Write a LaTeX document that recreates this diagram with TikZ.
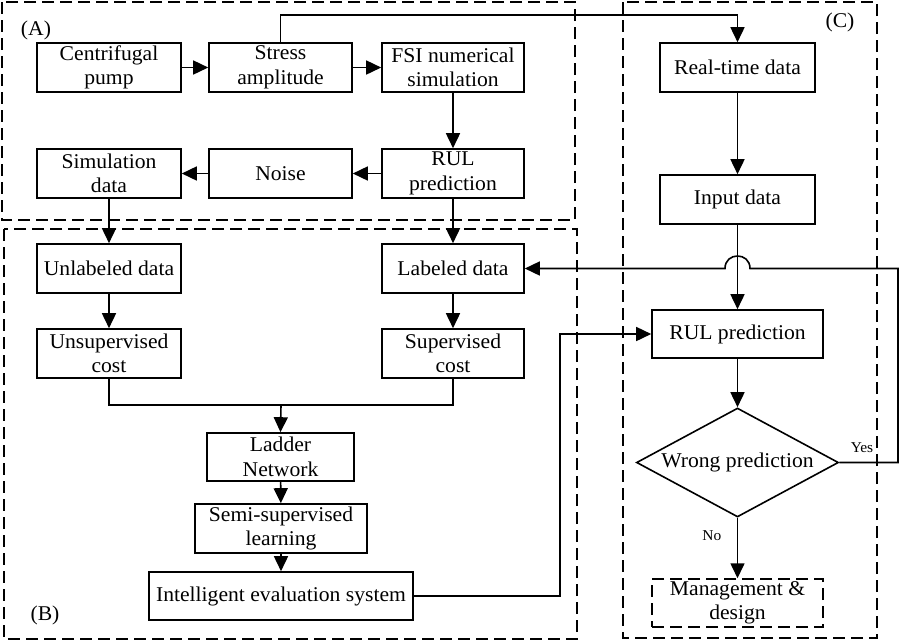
\documentclass[tikz,border=0pt]{standalone}
\usepackage{fontspec}
\setmainfont{Liberation Serif}[FakeStretch=1.03]
\usetikzlibrary{arrows.meta,shapes.geometric}
\begin{document}
\begin{tikzpicture}[x=1pt,y=-1pt,
  box/.style={draw, line width=1.6pt, inner sep=1pt, align=center, font=\fontsize{21}{24.5}\selectfont, minimum height=49pt},
  arr/.style={line width=1.6pt, -{Triangle[length=15pt,width=14pt]}},
  ln/.style={line width=1.6pt},
  region/.style={draw, line width=1.5pt, dash pattern=on 12pt off 6pt},
  lbl/.style={font=\fontsize{21}{24.5}\selectfont},
  small/.style={font=\fontsize{15}{18}\selectfont}]
\useasboundingbox (0,0) rectangle (900,641);
% regions
\draw[region] (2,2) rectangle (575,220);
\draw[region] (4,229) rectangle (577,639);
\draw[region] (623,2) rectangle (877,638);
\node[lbl] (labA) at (36,30) {(A)};
\node[lbl] (labB) at (45,615) {(B)};
\node[lbl] (labC) at (840,22) {(C)};
% region A
\node[box, minimum width=144pt] (cp) at (109,67.5) {Centrifugal\\pump};
\node[box, minimum width=143pt] (sa) at (280.5,67.5) {Stress\\amplitude};
\node[box, minimum width=142pt] (fsi) at (453,67.5) {FSI numerical\\simulation};
\node[box, minimum width=144pt] (sd) at (109,173.5) {Simulation\\data};
\node[box, minimum width=143pt] (noise) at (280.5,173.5) {Noise};
\node[box, minimum width=142pt] (rulA) at (453,173.5) {RUL\\prediction};
% region B
\node[box, minimum width=144pt] (unl) at (109,268.5) {Unlabeled data};
\node[box, minimum width=142pt] (lab) at (453,268.5) {Labeled data};
\node[box, minimum width=144pt] (unc) at (109,353.5) {Unsupervised\\cost};
\node[box, minimum width=142pt] (suc) at (453,353.5) {Supervised\\cost};
\node[box, minimum width=147pt, minimum height=48pt] (ladder) at (280.5,457) {Ladder\\Network};
\node[box, minimum width=172pt] (semi) at (281,528.5) {Semi-supervised\\learning};
\node[box, minimum width=264pt, minimum height=48pt] (ies) at (281,596) {Intelligent evaluation system};
% region C
\node[box, minimum width=155pt] (rt) at (737.5,67.5) {Real-time data};
\node[box, minimum width=155pt] (inp) at (737.5,199.5) {Input data};
\node[box, minimum width=171pt, minimum height=48pt] (rulC) at (737.5,334) {RUL prediction};
\node[draw, diamond, line width=1.6pt, minimum width=202pt, minimum height=109pt, inner sep=0pt] (wrong) at (737.5,462.5) {};
\node[lbl] (wrongt) at (wrong.center) {Wrong prediction};
\node[box, line width=1.5pt, minimum width=171pt, minimum height=48pt, dash pattern=on 12pt off 6pt] (mgmt) at (737.5,603) {Management \&\\design};
% connectors A
\draw[arr] (cp) -- (sa);
\draw[arr] (sa) -- (fsi);
\draw[arr] (fsi) -- (rulA);
\draw[arr] (rulA) -- (noise);
\draw[arr] (noise) -- (sd);
\draw[arr] (sd) -- (unl);
\draw[arr] (rulA) -- (lab);
% connectors B
\draw[arr] (unl) -- (unc);
\draw[arr] (lab) -- (suc);
\coordinate (merge) at (281,405);
\draw[ln] (unc.south) |- (merge) -| (suc.south);
\draw[arr] (merge) -- (ladder.north);
\draw[arr] (ladder) -- (semi);
\draw[arr] (semi) -- (ies);
\coordinate (c1) at (560,334);
\draw[arr] (ies.east) -| (c1) -- (rulC.west);
% connectors C
\coordinate (c2) at (737.5,15);
\draw[arr] (sa.north) |- (c2) -- (rt.north);
\draw[arr] (rt) -- (inp);
\draw[arr] (inp) -- (rulC);
\draw[arr] (rulC) -- (wrong.north);
\draw[arr] (wrong.south) -- node[small, pos=0.3, left=12pt] (no) {No} (mgmt.north);
\coordinate (c3) at (898,462.5);
\coordinate (c4) at (898,268.5);
\coordinate (h1) at (750,268.5);
\coordinate (h2) at (725,268.5);
\draw[arr] (wrong.east) -- (c3) -- (c4) -- (h1) .. controls (750,251.8) and (725,251.8) .. (h2) -- (lab.east);
\node[small] (yes) at (862,448) {Yes};
\end{tikzpicture}
\end{document}
